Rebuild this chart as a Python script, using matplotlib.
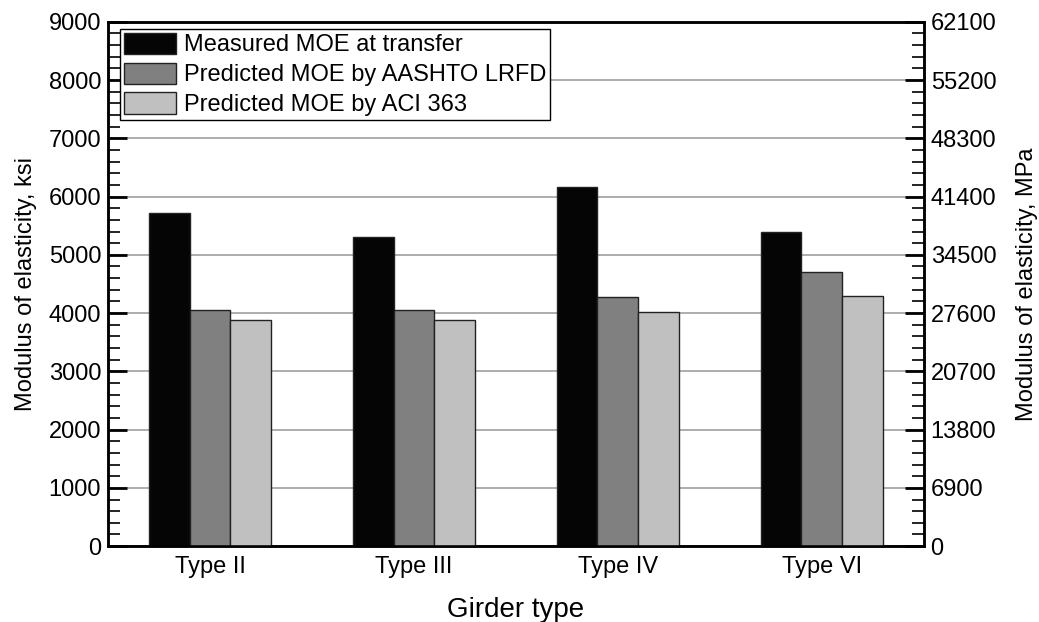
import matplotlib
matplotlib.use('Agg')
import matplotlib.pyplot as plt
import numpy as np
from matplotlib.ticker import MultipleLocator

plt.rcParams['font.family'] = ['Liberation Sans', 'DejaVu Sans']

# girder types and modulus of elasticity (ksi)
girders = ['Type II', 'Type III', 'Type IV', 'Type VI']
measured = [5720, 5300, 6170, 5400]
aashto = [4060, 4060, 4280, 4700]
aci = [3880, 3880, 4020, 4300]
series_names = ['Measured MOE at transfer', 'Predicted MOE by AASHTO LRFD', 'Predicted MOE by ACI 363']
series_colors = ['#050505', '#808080', '#c0c0c0']

fig = plt.figure(figsize=(10.39, 6.22), dpi=100)
ax = fig.add_axes([0.104, 0.122, 0.785, 0.843])

x = np.arange(len(girders))
w = 0.2
for i, (vals, name, col) in enumerate(zip([measured, aashto, aci], series_names, series_colors)):
    ax.bar(x + (i - 1) * w, vals, width=w, color=col, edgecolor='#222222', linewidth=1.0,
           label=name, zorder=3)

ax.set_xlim(-0.5, 3.5)
ax.set_ylim(0, 9000)
ax.set_xticks(x)
ax.set_xticklabels(girders, fontsize=17)
ax.tick_params(axis='x', length=0, pad=7)
ax.yaxis.set_major_locator(MultipleLocator(1000))
ax.yaxis.set_minor_locator(MultipleLocator(200))
ax.tick_params(axis='y', which='major', direction='in', length=14, width=2, labelsize=17, pad=5)
ax.tick_params(axis='y', which='minor', direction='in', length=8.5, width=1.2)
ax.grid(axis='y', which='major', color='#a0a0a0', linewidth=1.2, zorder=0)
ax.set_axisbelow(True)
for s in ax.spines.values():
    s.set_linewidth(1.8)

ax.set_xlabel('Girder type', fontsize=20, labelpad=14)
ax.set_ylabel('Modulus of elasticity, ksi', fontsize=17, labelpad=8)

# right axis in MPa
ax2 = ax.twinx()
ax2.set_ylim(0, 9000 * 6.9)
ax2.yaxis.set_major_locator(MultipleLocator(6900))
ax2.yaxis.set_minor_locator(MultipleLocator(1380))
ax2.tick_params(axis='y', which='major', direction='in', length=14, width=2, labelsize=17, pad=5)
ax2.tick_params(axis='y', which='minor', direction='in', length=8.5, width=1.2)
ax2.set_ylabel('Modulus of elasticity, MPa', fontsize=17, labelpad=14)
for s in ax2.spines.values():
    s.set_linewidth(1.8)

leg = ax.legend(loc='upper left', bbox_to_anchor=(0.0147, 0.9866), fontsize=17,
                handlelength=2.2, handleheight=1.0, handletextpad=0.34,
                labelspacing=0.26, borderpad=0.17, borderaxespad=0.0,
                fancybox=False, framealpha=1, edgecolor='black')
leg.get_frame().set_linewidth(1.0)
leg.set_zorder(5)

fig.savefig('out.png', dpi=100)
